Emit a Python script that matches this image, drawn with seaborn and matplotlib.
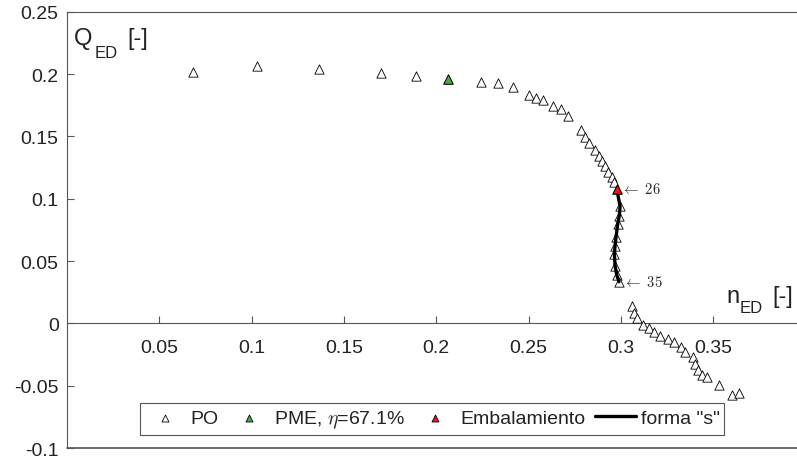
import matplotlib
matplotlib.use("Agg")
import matplotlib.pyplot as plt
import pandas as pd
import seaborn as sns

# ---- data ----
n_ed = [0.0685, 0.1028, 0.1363, 0.1701, 0.1889, 0.2062, 0.2243, 0.2336, 0.2418,
        0.2503, 0.2541, 0.2580, 0.2634, 0.2674, 0.2712, 0.2783, 0.2804, 0.2826,
        0.2860, 0.2882, 0.2897, 0.2914, 0.2932, 0.2954, 0.2965, 0.2978,
        0.2996, 0.2992, 0.2983, 0.2974, 0.2969, 0.2965, 0.2969, 0.2978, 0.2990,
        0.3059, 0.3073, 0.3089, 0.3122, 0.3154, 0.3181, 0.3212, 0.3254, 0.3288,
        0.3324, 0.3349, 0.3389, 0.3402, 0.3417, 0.3440, 0.3465, 0.3534, 0.3604,
        0.3640]
q_ed = [0.2017, 0.2063, 0.2041, 0.2009, 0.1987, 0.1961, 0.1939, 0.1929, 0.1897,
        0.1833, 0.1811, 0.1795, 0.1747, 0.1720, 0.1666, 0.1548, 0.1494, 0.1450,
        0.1394, 0.1346, 0.1306, 0.1266, 0.1217, 0.1172, 0.1132, 0.1079,
        0.0940, 0.0865, 0.0798, 0.0691, 0.0624, 0.0557, 0.0464, 0.0389, 0.0335,
        0.0138, 0.0084, 0.0042, -0.0010, -0.0036, -0.0066, -0.0098, -0.0124, -0.0146,
        -0.0191, -0.0231, -0.0271, -0.0325, -0.0373, -0.0411, -0.0431, -0.0493, -0.0571,
        -0.0557]
pme_point = 6          # 1-based point number of best efficiency point
runaway_point = 26     # 1-based point number of runaway point
s_first, s_last = 26, 35
labels_points = [26, 35]
x_ticks = [0.05, 0.1, 0.15, 0.2, 0.25, 0.3, 0.35]
x_tick_labels = ["0.05", "0.1", "0.15", "0.2", "0.25", "0.3", "0.35"]
y_ticks = [-0.1, -0.05, 0, 0.05, 0.1, 0.15, 0.2, 0.25]
y_tick_labels = ["-0.1", "-0.05", "0", "0.05", "0.1", "0.15", "0.2", "0.25"]
legend_labels = ["PO", r"PME, $\eta$=67.1%", "Embalamiento", 'forma "s"']

sns.set_style("white")
plt.rcParams["font.family"] = ["Liberation Sans", "DejaVu Sans"]
plt.rcParams["mathtext.fontset"] = "cm"

df = pd.DataFrame({"n": n_ed, "q": q_ed})
df["idx"] = range(1, len(df) + 1)

W, H = 797, 460
fig = plt.figure(figsize=(W / 100, H / 100), dpi=100)
x0, x1 = 67, 797
y_top, y_bot = 12.7, 449.2
ax = fig.add_axes([x0 / W, (H - y_bot) / H, (x1 - x0) / W, (y_bot - y_top) / H])

axc = "#555555"
sns.scatterplot(data=df, x="n", y="q", marker="^", s=45, color="white",
                edgecolor="black", linewidth=0.6, ax=ax, label=legend_labels[0], zorder=3)
sns.scatterplot(data=df[df.idx == pme_point], x="n", y="q", marker="^", s=45,
                color="#45ad45", edgecolor="black", linewidth=0.6, ax=ax,
                label=legend_labels[1], zorder=4)
sns.lineplot(data=df[(df.idx >= s_first) & (df.idx <= s_last)], x="n", y="q",
             sort=False, estimator=None, color="black", linewidth=2.4, ax=ax,
             label=legend_labels[3], zorder=4)
sns.scatterplot(data=df[df.idx == runaway_point], x="n", y="q", marker="^", s=45,
                color="#e8151b", edgecolor="black", linewidth=0.6, ax=ax,
                label=legend_labels[2], zorder=5)

for p in labels_points:
    r = df[df.idx == p].iloc[0]
    ax.annotate(r"$\leftarrow\ %d$" % p, xy=(r.n, r.q), xytext=(3, 0),
                textcoords="offset points", va="center", ha="left", fontsize=10.5)

ax.set_xlim(0, (x1 - x0) / 1846)
ax.set_ylim(-0.1, 0.25)
ax.set_xticks(x_ticks)
ax.set_xticklabels(x_tick_labels)
ax.set_yticks(y_ticks)
ax.set_yticklabels(y_tick_labels)
ax.set_xlabel("")
ax.set_ylabel("")

ax.spines["bottom"].set_position(("data", 0))
ax.spines["right"].set_visible(False)
for s in ["bottom", "left", "top"]:
    ax.spines[s].set_color(axc)
    ax.spines[s].set_linewidth(0.8)
ax.axhline(-0.1, color=axc, linewidth=1.2, clip_on=False, zorder=1)
ax.tick_params(axis="x", direction="in", length=5, width=0.8, color=axc,
               pad=11, labelsize=14, labelcolor="#222222", bottom=True)
ax.tick_params(axis="y", direction="in", length=5, width=0.8, color=axc,
               pad=6, labelsize=14, labelcolor="#222222", left=True)

# axis labels (MATLAB style inside the axes)
tc = "#222222"
fig.text(74 / W, 1 - 45 / H, "Q", fontsize=17, color=tc, va="baseline", ha="left")
fig.text(95 / W, 1 - 58 / H, "ED", fontsize=12, color=tc, va="baseline", ha="left")
fig.text(127 / W, 1 - 45 / H, "[-]", fontsize=17, color=tc, va="baseline", ha="left")
fig.text(726 / W, 1 - 303 / H, "n", fontsize=17, color=tc, va="baseline", ha="left")
fig.text(740 / W, 1 - 313 / H, "ED", fontsize=12, color=tc, va="baseline", ha="left")
fig.text(772 / W, 1 - 303 / H, "[-]", fontsize=17, color=tc, va="baseline", ha="left")

handles, labels = ax.get_legend_handles_labels()
order = [labels.index(l) for l in legend_labels]
leg = ax.legend([handles[i] for i in order], [labels[i] for i in order],
                ncol=4, loc="lower left",
                bbox_to_anchor=(140 / W, (H - 435.7) / H), bbox_transform=fig.transFigure,
                fontsize=14, frameon=True, fancybox=False, framealpha=1,
                edgecolor=axc, markerscale=0.75, handlelength=2.1,
                handletextpad=0.25, columnspacing=0.5, borderpad=0.25,
                borderaxespad=0)
leg.get_frame().set_linewidth(0.8)
for t in leg.get_texts():
    t.set_color(tc)

fig.savefig("out.png", dpi=100)
